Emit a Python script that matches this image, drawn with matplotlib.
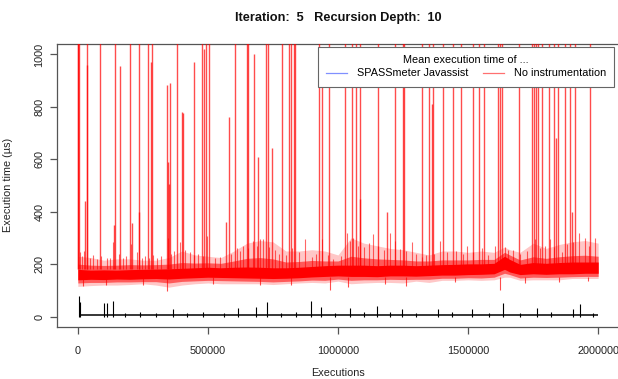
import matplotlib
matplotlib.use("Agg")
import matplotlib.pyplot as plt
from matplotlib.lines import Line2D

# ---------------- data ----------------
band_x = [0, 50000, 100000, 150000, 200000, 250000, 300000, 350000, 400000, 450000,
          500000, 550000, 600000, 650000, 700000, 750000, 800000, 850000, 900000, 950000,
          1000000, 1050000, 1100000, 1150000, 1200000, 1250000, 1300000, 1350000, 1400000,
          1450000, 1500000, 1550000, 1600000, 1640000, 1660000, 1700000, 1750000, 1800000,
          1850000, 1900000, 1950000, 2000000]
core_lo = [140, 142, 141, 143, 142, 144, 145, 143, 146, 148,
           150, 149, 148, 147, 146, 145, 146, 148, 151, 153,
           155, 153, 153, 152, 155, 155, 154, 156, 158,
           158, 160, 161, 163, 180, 170, 160, 163, 161,
           163, 163, 165, 165]
core_hi = [180, 177, 178, 177, 179, 180, 181, 182, 184, 186,
           188, 186, 188, 189, 188, 186, 186, 188, 191, 194,
           196, 196, 196, 194, 196, 196, 194, 196, 198,
           199, 201, 201, 203, 230, 218, 199, 206, 203,
           206, 208, 208, 208]
near_lo = [128, 130, 130, 132, 132, 133, 133, 128, 134, 136,
           138, 137, 136, 135, 134, 132, 134, 136, 139, 138,
           143, 138, 140, 140, 142, 141, 142, 142, 146,
           146, 148, 147, 150, 165, 160, 147, 150, 149,
           150, 152, 153, 153]
near_hi = [200, 196, 195, 196, 198, 197, 198, 200, 206, 204,
           205, 203, 212, 222, 225, 220, 208, 210, 214, 212,
           212, 230, 224, 220, 218, 216, 212, 212, 216,
           216, 216, 218, 218, 245, 235, 216, 228, 222,
           228, 232, 234, 230]
outer_lo = [115, 118, 120, 120, 122, 125, 120, 112, 120, 125,
            128, 125, 125, 125, 125, 122, 125, 128, 130, 128,
            135, 125, 128, 130, 130, 128, 135, 130, 138,
            138, 140, 138, 140, 150, 150, 138, 140, 140,
            140, 145, 145, 145]
outer_hi = [230, 225, 215, 220, 220, 215, 215, 225, 250, 235,
            230, 225, 250, 280, 290, 285, 250, 250, 255, 250,
            235, 300, 280, 270, 260, 255, 245, 235, 250,
            250, 245, 250, 245, 265, 255, 245, 280, 260,
            275, 285, 290, 280]

spike_x = [0, 2000, 4000, 27000, 35000, 36000, 86000, 138000, 143000, 163000, 199000,
           209000, 236000, 237000, 271000, 280000, 287000, 344000, 346000, 351000, 356000,
           380000, 400000, 405000, 447000, 476000, 486000, 491000, 505000, 569000, 582000,
           604000, 649000, 656000, 676000, 691000, 723000, 730000, 746000, 786000, 813000,
           818000, 830000, 835000, 927000, 937000, 965000, 1027000, 1055000, 1068000,
           1085000, 1085500, 1155000, 1187000, 1219000, 1249000, 1255000, 1322000, 1351000,
           1360000, 1364000, 1403000, 1441000, 1472000, 1520000, 1542000, 1563000, 1614000,
           1623000, 1630000, 1697000, 1745000, 1752000, 1762000, 1768000, 1783000, 1812000,
           1832000, 1838000, 1847000, 1873000, 1892000, 1899000, 1912000, 1969000]
spike_y = [1100, 1100, 1100, 440, 960, 1100, 1100, 350, 1100, 955, 1100,
           355, 397, 1100, 1100, 970, 1100, 885, 588, 504, 890,
           1100, 782, 775, 970, 1100, 1020, 1100, 1100, 359, 763,
           1100, 1100, 1100, 1000, 607, 1100, 1100, 645, 1100, 1100,
           1100, 1100, 1100, 1100, 1030, 1100, 1100, 1100, 1100,
           1100, 447, 1100, 400, 1100, 1100, 1100, 1100, 1100,
           810, 1100, 1100, 1100, 1100, 1100, 1100, 1100, 1100,
           1100, 1100, 1100, 1100, 1100, 1100, 1100, 1100, 1100,
           1100, 683, 1100, 1100, 1100, 397, 1100, 1100]

tuft_x = [8000, 15000, 25000, 45000, 60000, 75000, 90000, 112000, 125000, 135000,
          160000, 172000, 185000, 206000, 226000, 245000, 260000, 275000, 290000, 305000,
          320000, 345000, 358000, 370000, 392000, 411000, 431000, 445000, 460000, 480000,
          495000, 527000, 545000, 590000, 610000, 625000, 636000, 655000, 675000, 690000,
          700000, 713000, 735000, 758000, 775000, 800000, 822000, 850000, 873000, 899000,
          915000, 937000, 960000, 982000, 1010000, 1033000, 1045000, 1059000, 1075000,
          1100000, 1120000, 1136000, 1155000, 1175000, 1200000, 1219000, 1238000, 1260000,
          1283000, 1300000, 1322000, 1340000, 1370000, 1392000, 1420000, 1455000, 1480000,
          1495000, 1520000, 1553000, 1575000, 1604000, 1640000, 1655000, 1674000, 1700000,
          1725000, 1758000, 1775000, 1795000, 1815000, 1830000, 1860000, 1880000, 1905000,
          1926000, 1950000, 1965000, 1988000]
tuft_y = [245, 230, 250, 225, 235, 220, 230, 225, 222, 283,
          240, 225, 230, 278, 245, 225, 230, 222, 235, 225,
          230, 300, 240, 250, 283, 255, 245, 235, 240, 230,
          306, 225, 228, 240, 263, 250, 268, 260, 290, 270,
          294, 294, 265, 252, 240, 235, 260, 245, 294, 226,
          240, 294, 235, 220, 232, 320, 290, 300, 270,
          265, 280, 315, 268, 255, 320, 290, 258, 250,
          283, 240, 226, 235, 240, 290, 245, 250, 240,
          268, 245, 260, 235, 268, 265, 255, 252, 240,
          250, 294, 260, 270, 294, 265, 245, 275, 285,
          320, 300, 270, 300]

low_x = [20000, 110000, 250000, 342000, 520000, 700000, 820000, 970000, 1040000,
         1180000, 1260000, 1450000, 1623000, 1720000, 1850000, 1960000]
low_y = [118, 122, 120, 97, 125, 120, 122, 103, 112, 125, 118, 130, 103, 128, 130, 135]

black_x = [3000, 8000, 100000, 114000, 137000, 180000, 240000, 300000, 367000, 420000,
           480000, 560000, 617000, 685000, 726000, 780000, 840000, 896000, 933000, 990000,
           1046000, 1100000, 1149000, 1200000, 1245000, 1300000, 1386000, 1440000, 1514000,
           1580000, 1636000, 1700000, 1764000, 1820000, 1903000, 1931000, 1980000]
black_y = [78, 54, 52, 52, 58, 14, 16, 15, 30, 14,
           18, 14, 31, 36, 57, 14, 16, 60, 35, 15,
           31, 18, 40, 16, 28, 15, 28, 17, 28,
           15, 50, 14, 31, 16, 27, 49, 14]
black_base = 5

x_ticks = [0, 500000, 1000000, 1500000, 2000000]
y_ticks = [0, 200, 400, 600, 800, 1000]
legend_labels = ["SPASSmeter Javassist", "No instrumentation"]

# ---------------- drawing ----------------
plt.rcParams['font.family'] = ['Liberation Sans', 'DejaVu Sans']
W, H = 618, 379
fig = plt.figure(figsize=(W / 100, H / 100), dpi=100)
ax = fig.add_axes([57 / W, 1 - 327 / H, (619 - 57) / W, (327 - 44) / H])

red = '#ff0000'
ax.hlines(black_base, 3000, 2000000, color='black', lw=1.1, zorder=2)
ax.vlines(black_x, 0, black_y, color='black', lw=0.8, zorder=2)

ax.fill_between(band_x, outer_lo, outer_hi, color=red, alpha=0.22, lw=0, zorder=3)
ax.fill_between(band_x, near_lo, near_hi, color=red, alpha=0.55, lw=0, zorder=3)
ax.fill_between(band_x, core_lo, core_hi, color=red, lw=0, zorder=4)
ax.vlines(tuft_x, [180] * len(tuft_x), tuft_y, color=red, alpha=0.6, lw=0.8, zorder=3)
ax.vlines(low_x, low_y, [150] * len(low_x), color=red, alpha=0.7, lw=0.8, zorder=3)
ax.vlines(spike_x, [180] * len(spike_x), spike_y, color=red, alpha=0.7, lw=1.0, zorder=3)

ax.set_xlim(-80000, 2080000)
ax.set_ylim(-40, 1040)

axis_col = '#555555'
for s in ax.spines.values():
    s.set_color(axis_col)
    s.set_linewidth(0.9)

ax.set_xticks(x_ticks)
ax.set_xticklabels([str(v) for v in x_ticks])
ax.set_yticks(y_ticks)
ax.set_yticklabels([str(v) for v in y_ticks], rotation=90, va='center')
ax.tick_params(axis='both', length=5, width=0.9, color=axis_col, labelsize=7.8,
               labelcolor='#222222', direction='out')
ax.tick_params(axis='x', pad=9)
ax.tick_params(axis='y', pad=4)

fig.text(338 / W, 1 - 18 / H, "Iteration:  5   Recursion Depth:  10", ha='center', va='center',
         fontsize=9.2, fontweight='bold', color='#111111')
fig.text(338 / W, 1 - 373 / H, "Executions", ha='center', va='center', fontsize=7.8, color='#222222')
fig.text(8 / W, 1 - 185 / H, "Execution time (µs)", ha='center', va='center', rotation=90,
         fontsize=7.8, color='#222222')

handles = [Line2D([], [], color='#8090ff', lw=0.9),
           Line2D([], [], color='#ff7070', lw=0.9)]
leg = ax.legend(handles, legend_labels, title="Mean execution time of ...", ncol=2,
                loc='upper right', bbox_to_anchor=(614 / W, 1 - 47 / H),
                bbox_transform=fig.transFigure, borderaxespad=0, fancybox=False,
                framealpha=1, edgecolor='#666666', fontsize=7.8, title_fontsize=7.8,
                handlelength=1.9, handletextpad=0.9, columnspacing=1.4,
                borderpad=0.75, labelspacing=0.3)
leg.get_frame().set_linewidth(0.8)
leg.set_zorder(10)

fig.savefig("out.png", dpi=100)
